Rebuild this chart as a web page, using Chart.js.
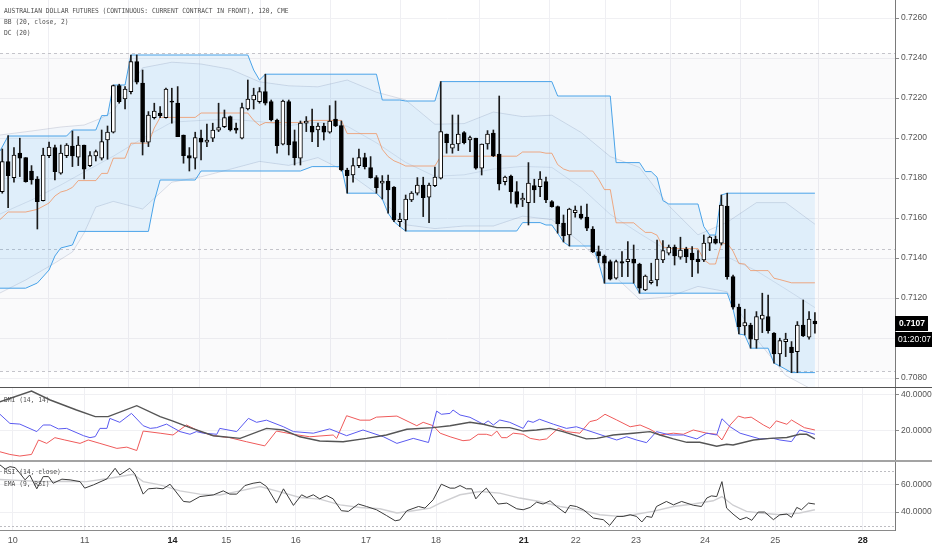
<!DOCTYPE html>
<html>
<head>
<meta charset="utf-8">
<script src="https://cdn.jsdelivr.net/npm/chart.js@4.4.1/dist/chart.umd.min.js"></script>
<style>
  html, body { margin: 0; padding: 0; background: #fff; }
  #wrap { position: relative; width: 932px; height: 550px; overflow: hidden; }
  .pane { position: absolute; left: 0; width: 932px; }
  canvas { display: block; }
</style>
</head>
<body>
<div id="wrap">
  <div class="pane" style="top:0;height:388px"><canvas id="mainChart" width="932" height="388"></canvas></div>
  <div class="pane" style="top:388px;height:72px"><canvas id="dmiChart" width="932" height="72"></canvas></div>
  <div class="pane" style="top:460px;height:90px"><canvas id="rsiChart" width="932" height="90"></canvas></div>
</div>
<script>
// 120-minute bars (bar index 0..139)
const opens = [0.71732,0.71882,0.71802,0.71924,0.71902,0.71835,0.71794,0.71687,0.71912,0.71952,
  0.71824,0.71912,0.7196,0.71904,0.71965,0.71862,0.7191,0.71899,0.7199,0.72029,
  0.72262,0.72195,0.72232,0.72382,0.72274,0.71979,0.72102,0.72124,0.72102,0.72185,
  0.72174,0.72015,0.71912,0.71899,0.71999,0.71979,0.71999,0.72039,0.72057,0.72107,
  0.72049,0.71999,0.72145,0.7219,0.72182,0.72232,0.72182,0.7209,0.71969,0.72182,
  0.71982,0.71899,0.72074,0.7206,0.7204,0.7206,0.72029,0.72095,0.72062,0.7184,
  0.71815,0.71862,0.71902,0.71852,0.71802,0.71774,0.71785,0.71754,0.71582,0.7159,
  0.7169,0.71724,0.71765,0.71704,0.71762,0.71799,0.7202,0.71949,0.7197,0.72027,
  0.7199,0.71999,0.71849,0.7197,0.72024,0.7192,0.71782,0.7181,0.71732,0.7169,
  0.71677,0.71762,0.71757,0.71782,0.71682,0.71657,0.71575,0.71515,0.71627,0.7162,
  0.71604,0.71544,0.71432,0.7141,0.71382,0.71299,0.71382,0.71382,0.71394,0.7137,
  0.7124,0.71277,0.7129,0.7139,0.71424,0.71454,0.71404,0.71444,0.71424,0.71394,
  0.7139,0.71474,0.71494,0.71474,0.7166,0.71307,0.71154,0.7106,0.71065,0.7099,
  0.71094,0.71107,0.71024,0.7092,0.70982,0.70954,0.70932,0.71065,0.71004,0.71085];
const highs = [0.71945,0.72012,0.71952,0.71999,0.71902,0.71862,0.71807,0.71949,0.71979,0.71965,
  0.71965,0.71972,0.72035,0.72007,0.71965,0.71932,0.7194,0.7204,0.7206,0.72265,
  0.72269,0.72257,0.72415,0.72415,0.7234,0.72132,0.72174,0.72157,0.72249,0.72249,
  0.72257,0.72015,0.71952,0.72029,0.7204,0.7207,0.72074,0.72174,0.7214,0.7211,
  0.72074,0.72174,0.7229,0.72249,0.72252,0.72319,0.7219,0.72095,0.7219,0.7219,
  0.7204,0.72085,0.72107,0.72144,0.72074,0.72074,0.72162,0.72185,0.72085,0.71849,
  0.71899,0.71945,0.71924,0.71907,0.71812,0.71812,0.71815,0.71757,0.71624,0.71715,
  0.71732,0.71802,0.71804,0.71774,0.71854,0.72282,0.7202,0.72115,0.72115,0.72032,
  0.7201,0.71999,0.7197,0.72037,0.7204,0.7221,0.7181,0.71815,0.71782,0.71724,
  0.71877,0.71794,0.71832,0.71804,0.71687,0.7166,0.71615,0.71649,0.7166,0.7166,
  0.7167,0.71557,0.7146,0.71415,0.7139,0.7139,0.71432,0.71482,0.71465,0.71374,
  0.71315,0.71374,0.7149,0.71487,0.71465,0.71465,0.71504,0.71454,0.71457,0.71437,
  0.71515,0.7151,0.7151,0.71715,0.71724,0.71315,0.7117,0.71144,0.71074,0.71132,
  0.71224,0.71215,0.71027,0.70999,0.71024,0.70982,0.71082,0.7119,0.71132,0.71127];
const lows = [0.71724,0.71652,0.71779,0.71807,0.71779,0.71769,0.71545,0.71685,0.71902,0.7179,
  0.71819,0.71902,0.71857,0.71862,0.71795,0.71857,0.71885,0.7189,0.71894,0.72025,
  0.72174,0.72145,0.7222,0.7227,0.71915,0.71957,0.72095,0.72102,0.72099,0.72074,
  0.72007,0.71874,0.71835,0.71845,0.7189,0.71957,0.71982,0.72032,0.72052,0.72035,
  0.72024,0.71995,0.7214,0.72145,0.72174,0.72165,0.72085,0.71924,0.71965,0.71915,
  0.71865,0.71865,0.72032,0.71982,0.71957,0.7199,0.72024,0.72057,0.71835,0.71724,
  0.71779,0.71852,0.71845,0.71799,0.71724,0.71695,0.71624,0.71582,0.71557,0.71535,
  0.71682,0.71715,0.71607,0.71577,0.71757,0.71795,0.71924,0.71924,0.71937,0.7197,
  0.71932,0.71844,0.71815,0.71944,0.71907,0.7174,0.71765,0.71674,0.71654,0.71657,
  0.71565,0.71677,0.71707,0.71677,0.71654,0.71524,0.7148,0.7146,0.71604,0.71594,
  0.71537,0.71427,0.71377,0.71274,0.7129,0.71294,0.71307,0.71307,0.71274,0.71224,
  0.71237,0.7127,0.7126,0.71377,0.71415,0.71365,0.71394,0.71377,0.71307,0.71324,
  0.71382,0.71437,0.7147,0.71465,0.71294,0.71144,0.7102,0.71015,0.70949,0.70949,
  0.71027,0.71024,0.70874,0.7086,0.70907,0.70827,0.70827,0.71007,0.70994,0.71024];
const closes = [0.71882,0.71812,0.71915,0.71899,0.71782,0.7179,0.71682,0.71915,0.71954,0.71832,
  0.71924,0.71965,0.7191,0.71965,0.71844,0.71912,0.71932,0.71982,0.72029,0.72262,
  0.72182,0.72244,0.72382,0.72279,0.71979,0.72115,0.72135,0.72112,0.72244,0.72179,
  0.72007,0.71912,0.71899,0.72002,0.71979,0.7199,0.7204,0.72052,0.72102,0.7204,
  0.72039,0.72152,0.72195,0.72215,0.72232,0.72174,0.7209,0.71962,0.72185,0.71965,
  0.71902,0.72074,0.72085,0.72029,0.7206,0.72029,0.72085,0.7206,0.7184,0.71812,
  0.71862,0.71902,0.71857,0.71802,0.71752,0.71785,0.7174,0.7159,0.71595,0.71695,
  0.71724,0.71765,0.71702,0.71765,0.71804,0.72032,0.71977,0.7197,0.7202,0.71977,
  0.72002,0.71849,0.7197,0.7202,0.7191,0.7177,0.71804,0.71732,0.71669,0.71699,
  0.71774,0.7174,0.71794,0.7169,0.71657,0.7157,0.7151,0.71644,0.7164,0.71599,
  0.71549,0.71432,0.7141,0.71374,0.71294,0.71382,0.71374,0.71394,0.71374,0.71249,
  0.7131,0.71287,0.71394,0.71437,0.71454,0.7141,0.7144,0.71407,0.7139,0.71382,
  0.71474,0.71504,0.71474,0.71665,0.71307,0.71154,0.71057,0.71077,0.70994,0.71107,
  0.71115,0.71037,0.7092,0.70987,0.70995,0.70927,0.71065,0.7101,0.71094,0.7107];

// Donchian channel (20): [bar index, price]
const dcUpper = [[-0.4,0.71935],[1,0.7201],[11,0.7201],[12,0.7204],[16,0.7204],[17,0.72112],[18,0.72112],
  [19,0.72265],[21,0.72265],[22,0.72415],[42,0.72415],[43,0.7234],[44,0.7229],[45,0.72319],[64,0.72319],
  [65,0.7219],[68,0.7219],[69,0.72185],[74,0.72185],[75,0.72282],[94,0.72282],[95,0.7221],[104,0.7221],
  [105,0.71877],[109,0.71877],[110,0.71832],[111,0.71832],[112,0.71804],[113,0.71687],[114,0.7167],
  [119,0.7167],[120,0.71557],[121,0.71515],[122,0.71515],[123,0.71715],[124,0.71724],[139,0.71724]];
const dcLower = [[-0.4,0.71249],[4,0.71249],[6,0.71275],[8,0.7134],[9,0.7141],[10,0.7145],[12,0.71465],
  [13,0.71533],[25,0.71533],[26,0.71685],[27,0.7179],[33,0.7179],[34,0.71835],[51,0.71835],[53,0.71857],
  [58,0.71857],[59,0.71724],[64,0.71724],[65,0.71695],[66,0.71624],[67,0.71582],[68,0.71557],[69,0.71535],
  [88,0.71535],[89,0.71577],[92,0.71577],[93,0.71565],[94,0.71565],[95,0.71524],[96,0.7148],[97,0.7146],
  [101,0.7146],[102,0.71377],[103,0.71274],[108,0.71274],[109,0.71224],[124,0.71224],[125,0.71144],
  [126,0.7102],[127,0.71015],[128,0.70949],[131,0.70949],[132,0.70874],[133,0.7086],[135,0.70827],[139,0.70827]];
const dcBasis = [[-0.4,0.71592],[1,0.7163],[4,0.7163],[6,0.71643],[8,0.71675],[9,0.7171],[10,0.7173],
  [11,0.71738],[12,0.71753],[13,0.71787],[16,0.71787],[17,0.71823],[18,0.71823],[19,0.71899],[21,0.71899],
  [22,0.71974],[25,0.71974],[26,0.7205],[27,0.72103],[33,0.72103],[34,0.72125],[42,0.72125],[43,0.72088],
  [44,0.72063],[45,0.72077],[51,0.72077],[53,0.72088],[58,0.72088],[59,0.72022],[64,0.72022],[65,0.71943],
  [66,0.71907],[67,0.71886],[68,0.71874],[69,0.7186],[74,0.7186],[75,0.71909],[88,0.71909],[89,0.7193],
  [92,0.7193],[93,0.71924],[94,0.71924],[95,0.71867],[96,0.71845],[97,0.71835],[101,0.71835],[102,0.71794],
  [103,0.71742],[104,0.71742],[105,0.71576],[108,0.71576],[109,0.71551],[110,0.71528],[111,0.71528],
  [112,0.71514],[113,0.71456],[114,0.71447],[119,0.71447],[120,0.71391],[121,0.7137],[122,0.7137],
  [123,0.7147],[124,0.71474],[125,0.71434],[126,0.71372],[127,0.7137],[128,0.71337],[131,0.71337],
  [132,0.71299],[133,0.71292],[135,0.71276],[139,0.71276]];

// Bollinger bands (20, close, 2)
const bbUpper = [[-0.4,0.72015],[5,0.72035],[10,0.72055],[14,0.72065],[17,0.721],[19,0.72135],[24,0.72351],
  [29,0.72379],[34,0.7237],[39,0.72344],[44,0.72281],[49,0.72261],[54,0.72256],[59,0.7229],[64,0.72229],
  [69,0.7219],[74,0.72069],[79,0.72072],[84,0.7213],[89,0.72107],[94,0.72114],[99,0.72028],[104,0.71907],
  [109,0.71853],[114,0.71662],[119,0.71516],[124,0.71579],[129,0.71677],[134,0.71677],[139,0.71569]];
const bbLower = [[-0.4,0.71225],[4,0.7129],[9,0.71375],[12,0.7143],[14,0.71525],[16,0.71655],[19,0.71683],
  [24,0.71645],[29,0.71779],[34,0.71806],[39,0.71844],[44,0.71883],[49,0.71863],[54,0.71902],[59,0.71828],
  [64,0.71723],[69,0.71566],[74,0.71547],[79,0.7156],[84,0.7156],[89,0.71609],[94,0.71592],[99,0.71476],
  [104,0.71329],[109,0.71193],[114,0.71206],[119,0.71258],[124,0.71231],[129,0.70995],[134,0.70813],[139,0.70735]];
const bbBasis = [[-0.4,0.7162],[5,0.7169],[10,0.71765],[14,0.7183],[19,0.71909],[24,0.71998],[29,0.72079],
  [34,0.72088],[39,0.72094],[44,0.72082],[49,0.72062],[54,0.72079],[59,0.72059],[64,0.71976],[69,0.71878],
  [74,0.71808],[79,0.71816],[84,0.71845],[89,0.71858],[94,0.71853],[99,0.71752],[104,0.71618],[109,0.71523],
  [114,0.71434],[119,0.71387],[124,0.71405],[129,0.71336],[134,0.71245],[139,0.71152]];

// DMI (14, 14)
const plusDI = [[-0.4,29.2],[1.3,24.1],[3,23.7],[5.9,19.5],[7,23.2],[8.2,23.2],[9.6,21],[11,21.3],[13.9,17.2],
  [15,16.1],[15.9,16.7],[16.7,21.3],[17.9,21.3],[18.4,26.9],[20.1,24.7],[22.1,29.7],[24.1,22.8],[25.3,21.3],
  [26.4,21.7],[28.1,23.7],[30.4,19.5],[32.1,18],[33.2,19.5],[34.4,18.6],[36.7,18],[37.2,21.3],[40.1,19.5],
  [42.1,26.9],[43.5,24.7],[45.2,25.9],[48.1,22.2],[49.8,19.5],[53.2,18.6],[56,21],[58.9,17.2],[61.7,20.4],
  [65.2,16.6],[67.5,12.9],[70.3,15.7],[72.9,13.4],[74.3,31],[75.1,29.2],[76.6,29.7],[77.1,31.6],[78.3,28.8],
  [80,27.5],[82.3,23.6],[83.1,25.5],[84,23.2],[85.1,26],[86.8,24.7],[89.1,21.3],[89.9,25.5],[90.8,24.7],
  [91.9,26.4],[94.3,23.6],[96.5,21.3],[98.2,22.2],[99.9,20.4],[103.4,16.6],[105.1,14.8],[106.8,16.6],
  [108.5,14.8],[110.2,13.3],[111.9,19.5],[114.2,17.6],[116.5,17.6],[118.8,15.4],[120.5,18.6],[122.2,17.6],
  [123.1,26.7],[124.5,22.2],[126.2,18.6],[129.6,15.4],[131.9,15.7],[133,14.8],[135,13.9],[136.4,20.4],[139,18]];
const minusDI = [[-0.4,8.2],[1.3,6.7],[3,5.8],[5,6.7],[6.2,14.8],[7.6,12.9],[9,16.1],[10.7,14.8],[13.3,12.9],
  [14.7,14.8],[16.7,12.9],[19.6,10.1],[21.3,10.8],[23,8.9],[24.1,19.8],[27,18.6],[29.2,17.6],[31.5,23.2],
  [33.8,19.5],[36.1,17.2],[38.9,16.1],[41.8,13.8],[44.9,11.5],[46.9,19.8],[49.8,18],[52.6,16.6],[56.6,17.6],
  [57.2,15.7],[58.9,28.4],[61.2,25.9],[62.9,25.9],[64,27.6],[67.5,28.2],[70.9,22.8],[72,24.7],[73.7,22.8],
  [74.9,18.6],[76.6,16.6],[78.8,14.4],[80,14.8],[81.4,18],[82.8,18],[83.7,17.2],[84.6,19.8],[85.4,16.1],
  [86.3,16.1],[87.4,18.6],[89.1,18],[90.3,15.7],[91.9,14.8],[93.1,15.4],[95.1,21.3],[96.5,19.5],[98.8,18.6],
  [100.5,25.1],[101.7,26],[103.1,29.2],[105.1,26],[107.4,22.2],[109.1,23.2],[110.8,20.8],[112.5,17.6],
  [114.8,18.6],[116.5,18],[118.2,20.4],[120.5,18.6],[122.2,18],[123.1,14.8],[124.5,23.2],[125.9,28.2],
  [127,27.1],[128.1,27.6],[130.2,23.2],[131.3,21.3],[132.4,25.5],[134.2,23.6],[135,26],[137.2,21.7],[139,20.4]];
const adx = [[-0.4,36.2],[5,42.2],[8.2,37.2],[12.7,31.6],[15.9,27.9],[18.1,27.9],[23,34],[27,27.9],[29.2,25.4],
  [32.1,21.7],[36.1,17.2],[40.7,15.7],[45.2,21.3],[48.1,20.4],[50.9,16.6],[54.3,14.2],[58.3,13.8],[62.3,15.7],
  [65.7,17.6],[69.2,20.8],[73.7,21.7],[76.6,22.8],[80,24.7],[82.3,23.6],[84.6,21.7],[86.8,21.7],[89.1,19.8],
  [91.4,20.4],[93.7,21.3],[95.9,19.5],[99.9,15.4],[101.7,15.7],[104.5,17.6],[107.9,18.6],[110.8,19.5],
  [112.5,17.6],[114.8,15.4],[117.1,13.5],[119.3,13.5],[122.2,11.3],[123.9,12.4],[125,12],[128.5,14.8],
  [131.3,15.7],[134.2,16.2],[136.4,18],[137.6,18],[139,15.4]];

// RSI (14, close) and EMA (9, RSI)
const rsi = [[-0.4,74.7],[0.5,71.7],[1.3,73.4],[2.2,72.7],[3,68.6],[3.9,63.7],[4.7,67.3],[5.9,57.1],[7,66.1],
  [7.9,66.1],[8.7,61.2],[10.2,64.2],[11.6,63.7],[13.3,62.4],[14.1,57.6],[15.6,60],[17.9,64.4],[19.3,72.2],
  [20.1,67.3],[21.8,72.2],[22.7,67.8],[24.1,53.2],[25,57.1],[26.4,57.6],[27.5,57.1],[28.7,60.5],[31,47.8],
  [32.1,47.3],[33.8,51.4],[36.1,52.6],[37.8,55.6],[38.9,53.2],[40.1,53.2],[41.5,59.5],[42.9,61.2],[44.1,62],
  [45.2,58.8],[46.9,46.6],[48.1,57.1],[49.8,44.9],[51.2,52.7],[52.1,50.7],[53.2,52.7],[54.3,49.7],[55.5,52.1],
  [56.6,49.7],[58,41],[59.2,40.5],[60.9,45.9],[62.3,44.1],[64,41.7],[65.7,37.5],[67.2,33.6],[68,34.2],[69.2,41],
  [71.2,44.1],[72.3,42.9],[73.7,49],[75.1,60.5],[76.6,57.6],[77.4,57.6],[78.3,59.5],[79.4,57.1],[80.3,57.1],
  [81,49.7],[82,54.6],[82.8,57.6],[84.8,45.9],[86.3,46.6],[88,42.4],[89.1,41.7],[90.3,43.4],[91.4,47.3],
  [92.5,45.9],[93.7,48.3],[94.8,44.1],[96.3,39.3],[97.1,44.9],[98.2,44.1],[99.4,41.7],[101.1,35.6],[102.8,34.4],
  [103.9,30.2],[105.1,36.8],[106.2,36.8],[107.4,38],[108.5,36.8],[109.4,32.7],[110.2,36.8],[111.1,36.1],
  [111.9,44.1],[113.6,47.8],[114.8,45.3],[116.2,47.8],[118.2,45],[119.6,44.1],[120.5,50.3],[121.3,51.9],
  [122.2,51.4],[123.1,62.4],[123.9,42.9],[125,38.5],[126.2,34.4],[127.3,36.1],[128.2,33.9],[129.3,40],
  [130.4,40],[131.9,34.4],[133,38],[134.2,38.5],[135,36.1],[135.9,43.4],[136.7,41.7],[137.9,46.6],[139,45.9]];
const rsiEma = [[-0.4,64],[7,62.4],[11,62.7],[14.4,62.4],[18.4,64.9],[22.4,67.8],[24.1,62.4],[27,60],[30.4,55.6],
  [33.8,53.2],[37.2,52.6],[40.7,55.6],[44.1,58.8],[47.5,54.9],[50.9,50.7],[54.3,49.5],[57.8,45.3],[61.2,43.4],
  [64.6,42.4],[67.5,39.3],[70.3,41],[73.2,42.9],[74.9,46.6],[78.3,52.7],[81.7,55.1],[85.1,53.9],[88.5,50.3],
  [91.9,47.8],[95.4,44.1],[98.8,41.7],[102.2,38],[105.6,36.8],[107.9,38],[111.3,40.5],[114.8,44.1],[118.2,45.9],
  [121.6,48.3],[123.1,51.4],[125,45],[127.3,40.5],[129.6,39.3],[133,38],[136.4,39.3],[139,41.7]];

// axes
const priceTicks = [0.708, 0.710, 0.712, 0.714, 0.716, 0.718, 0.720, 0.722, 0.724, 0.726];
const dmiTicks = [20, 40];
const rsiTicks = [40, 60];
const rsiLevels = [70, 30];
const dayPos = [1.8, 14.1, 29.1, 38.3, 50.2, 62.2, 74.2, 89.2, 98.1, 108.4, 120.2, 132.2, 147.2];
const dayLabels = ['10', '11', '14', '15', '16', '17', '18', '21', '22', '23', '24', '25', '28'];
const boldDays = ['14', '21', '28'];
const levelLines = [0.72425, 0.71445, 0.70833];
const countdown = '01:20:07';

const X_MIN = -0.39, X_MAX = 152.7, AXIS_W = 37;
const P = arr => arr.map(([x, y]) => ({ x, y }));
const idx = closes.map((_, i) => i);

function xScale(showLabels) {
  return {
    type: 'linear', min: X_MIN, max: X_MAX, offset: false,
    afterBuildTicks: s => { s.ticks = dayPos.map(v => ({ value: v })); },
    afterFit: s => { s.height = showLabels ? 20 : 0; s.paddingLeft = 0; s.paddingRight = 0; },
    grid: { color: '#efeff3', drawTicks: false },
    border: { display: showLabels, color: '#8a8a8a' },
    ticks: {
      display: showLabels, autoSkip: false, maxRotation: 0, padding: 5,
      callback: (v, i) => dayLabels[i],
      color: c => boldDays.includes(dayLabels[c.index]) ? '#222' : '#555',
      font: c => ({ family: 'Liberation Sans', size: 9, weight: boldDays.includes(dayLabels[c.index]) ? 'bold' : 'normal' })
    }
  };
}

function yScale(min, max, ticks) {
  return {
    type: 'linear', position: 'right', min, max,
    afterBuildTicks: s => { s.ticks = ticks.map(v => ({ value: v })); },
    afterFit: s => { s.width = AXIS_W; s.paddingTop = 0; s.paddingBottom = 0; },
    grid: { color: '#f0f0f3', tickLength: 4, tickColor: '#8a8a8a' },
    border: { color: '#7a7a7a' },
    ticks: { padding: 2, color: '#555', font: { family: 'Liberation Sans', size: 8.5 }, callback: v => v.toFixed(4) }
  };
}

const baseOptions = {
  responsive: false, animation: false, events: [],
  layout: { padding: 0 },
  elements: { point: { radius: 0 }, line: { borderWidth: 1, tension: 0 } },
  plugins: { legend: { display: false }, tooltip: { enabled: false } }
};

function monoText(ctx, text, x, y) {
  ctx.save();
  ctx.translate(x, y);
  ctx.scale(0.9, 1);
  ctx.font = '7px "DejaVu Sans Mono"';
  ctx.fillStyle = '#505050';
  ctx.textBaseline = 'middle';
  ctx.fillText(text, 0, 0);
  ctx.restore();
}

const mainDecor = {
  id: 'mainDecor',
  beforeDatasetsDraw(chart) {
    const { ctx, chartArea: a, scales: { y } } = chart;
    ctx.save();
    const top = y.getPixelForValue(levelLines[0]);
    const bot = y.getPixelForValue(levelLines[levelLines.length - 1]);
    ctx.fillStyle = 'rgba(120,120,150,0.035)';
    ctx.fillRect(a.left, top, a.right - a.left, bot - top);
    ctx.setLineDash([3, 3]);
    ctx.strokeStyle = '#c4c4ca';
    ctx.lineWidth = 1;
    levelLines.forEach(v => {
      const py = Math.round(y.getPixelForValue(v)) + 0.5;
      ctx.beginPath(); ctx.moveTo(a.left, py); ctx.lineTo(a.right, py); ctx.stroke();
    });
    ctx.restore();
  },
  afterDraw(chart) {
    const { ctx, chartArea: a, scales: { y } } = chart;
    monoText(ctx, 'AUSTRALIAN DOLLAR FUTURES (CONTINUOUS: CURRENT CONTRACT IN FRONT), 120, CME', 4, 11);
    monoText(ctx, 'BB (20, close, 2)', 4, 22);
    monoText(ctx, 'DC (20)', 4, 33);
    ctx.save();
    // last price + countdown boxes
    const last = closes[closes.length - 1];
    const py = Math.round(y.getPixelForValue(last));
    ctx.fillStyle = '#000';
    ctx.fillRect(a.right, py - 8, 33, 15);
    ctx.fillRect(a.right, py + 8, AXIS_W, 15);
    ctx.fillStyle = '#fff';
    ctx.font = 'bold 8.5px "Liberation Sans"';
    ctx.textBaseline = 'middle';
    ctx.fillText(last.toFixed(4), a.right + 4, py);
    ctx.font = '8.5px "Liberation Sans"';
    ctx.fillText(countdown, a.right + 3, py + 16);
    // panel separator
    ctx.fillStyle = '#555';
    ctx.fillRect(0, chart.height - 1, chart.width, 1);
    ctx.restore();
  }
};

new Chart(document.getElementById('mainChart'), {
  type: 'bar',
  data: {
    datasets: [
      { type: 'bar', data: idx.map(i => ({ x: i, y: [opens[i], closes[i]] })),
        backgroundColor: c => closes[c.dataIndex] >= opens[c.dataIndex] ? '#ffffff' : '#000000',
        borderColor: '#000', borderWidth: 1, borderSkipped: false, barThickness: 4, grouped: false, order: 0 },
      { type: 'bar', data: idx.map(i => ({ x: i, y: [lows[i], highs[i]] })),
        backgroundColor: '#1a1a1a', borderWidth: 0, barThickness: 1, grouped: false, order: 1 },
      { type: 'line', data: P(dcUpper), borderColor: '#4aa3e8', fill: '+1', backgroundColor: 'rgba(33,150,243,0.09)', order: 4 },
      { type: 'line', data: P(dcLower), borderColor: '#4aa3e8', fill: false, order: 4 },
      { type: 'line', data: P(dcBasis), borderColor: 'rgba(245,120,50,0.6)', fill: false, order: 3 },
      { type: 'line', data: P(bbUpper), borderColor: 'rgba(110,120,150,0.22)', fill: '+1', backgroundColor: 'rgba(33,150,243,0.035)', order: 5 },
      { type: 'line', data: P(bbLower), borderColor: 'rgba(110,120,150,0.22)', fill: false, order: 5 },
      { type: 'line', data: P(bbBasis), borderColor: 'rgba(110,120,150,0.18)', fill: false, order: 5 }
    ]
  },
  options: Object.assign({}, baseOptions, {
    scales: { x: xScale(false), y: yScale(0.7075, 0.7269, priceTicks) }
  }),
  plugins: [mainDecor]
});

const dmiDecor = {
  id: 'dmiDecor',
  afterDraw(chart) { monoText(chart.ctx, 'DMI (14, 14)', 4, 12); }
};

new Chart(document.getElementById('dmiChart'), {
  type: 'line',
  data: {
    datasets: [
      { data: P(adx), borderColor: '#555555', borderWidth: 1.4 },
      { data: P(plusDI), borderColor: '#5a5af0' },
      { data: P(minusDI), borderColor: '#ef5a5a' }
    ]
  },
  options: Object.assign({}, baseOptions, {
    scales: { x: xScale(false), y: yScale(3.59, 43.92, dmiTicks) }
  }),
  plugins: [dmiDecor]
});

const rsiDecor = {
  id: 'rsiDecor',
  beforeDatasetsDraw(chart) {
    const { ctx, chartArea: a, scales: { y } } = chart;
    ctx.save();
    ctx.setLineDash([2, 2]);
    ctx.strokeStyle = '#bdbdc2';
    ctx.lineWidth = 1;
    rsiLevels.forEach(v => {
      const py = Math.round(y.getPixelForValue(v)) + 0.5;
      ctx.beginPath(); ctx.moveTo(a.left, py); ctx.lineTo(a.right, py); ctx.stroke();
    });
    ctx.restore();
  },
  afterDraw(chart) {
    const { ctx } = chart;
    ctx.save();
    ctx.fillStyle = '#a3a3a3';
    ctx.fillRect(0, 0, chart.width, 2);
    ctx.restore();
    monoText(ctx, 'RSI (14, close)', 4, 12);
    monoText(ctx, 'EMA (9, RSI)', 4, 24);
  }
};

new Chart(document.getElementById('rsiChart'), {
  type: 'line',
  data: {
    datasets: [
      { data: P(rsi), borderColor: '#3a3a3a', order: 0 },
      { data: P(rsiEma), borderColor: '#cfcfd2', borderWidth: 1.4, order: 1 }
    ]
  },
  options: Object.assign({}, baseOptions, {
    scales: { x: xScale(true), y: yScale(26.8, 78.3, rsiTicks) }
  }),
  plugins: [rsiDecor]
});
</script>
</body>
</html>
